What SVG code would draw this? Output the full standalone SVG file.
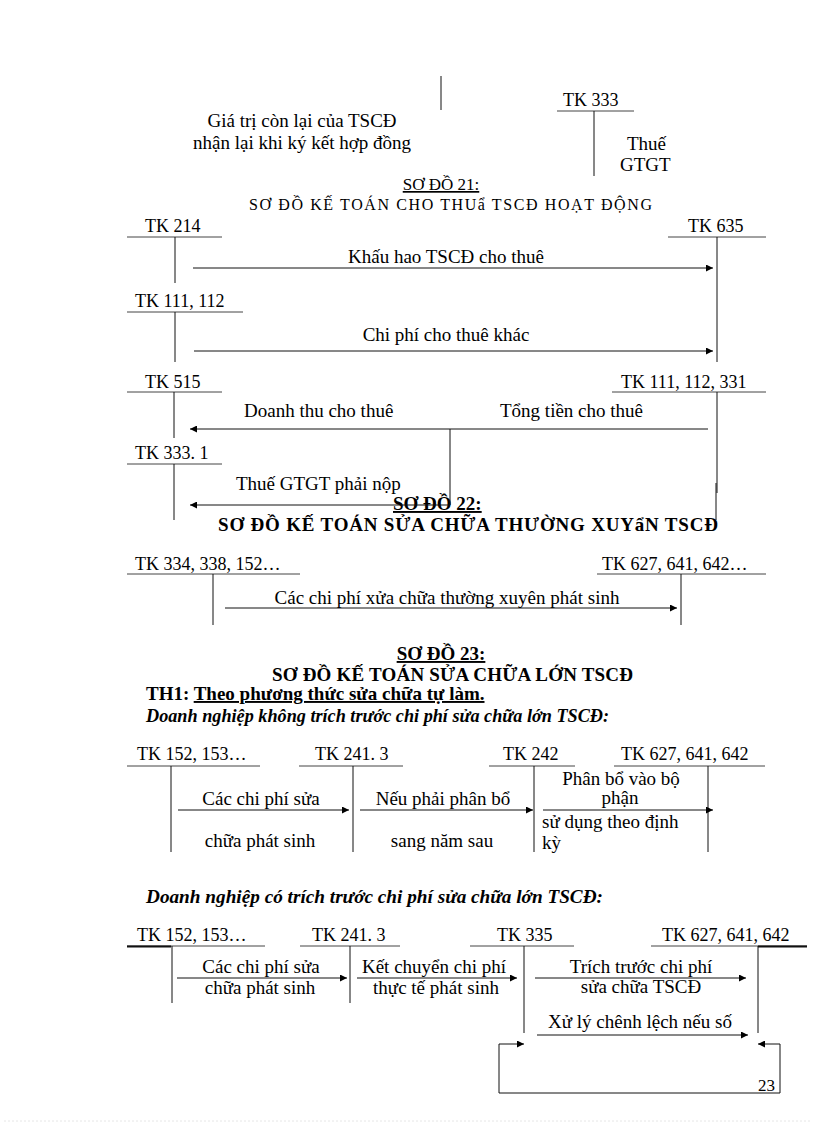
<svg xmlns="http://www.w3.org/2000/svg" width="816" height="1123" viewBox="0 0 816 1123" xml:space="preserve">
<defs>
<style>
text{font-family:"Liberation Serif","Times New Roman",serif;fill:#000;}
.t{font-size:18px;}
.l{font-size:19px;}
.c{text-anchor:middle;}
.ttl{font-size:16px;}
.b{font-weight:bold;font-size:19px;}
.bi{font-weight:bold;font-style:italic;font-size:19px;}
.u{text-decoration:underline;}
line,path,polyline{stroke:#111;stroke-width:1;fill:none;}
.ul{stroke:#444;}
.ar{marker-end:url(#ah);}
</style>
<marker id="ah" viewBox="0 0 10 10" refX="10" refY="5" markerWidth="9" markerHeight="7" orient="auto" markerUnits="userSpaceOnUse"><path d="M0,0 L10,5 L0,10 z" style="fill:#000;stroke:none"/></marker>
</defs>
<rect width="816" height="1123" fill="#fff"/>

<g id="top-fragment">
<line x1="441" y1="76" x2="441" y2="110"/>
<text class="l c" x="302" y="127">Giá trị còn lại của TSCĐ</text>
<text class="l c" x="302" y="149">nhận lại khi ký kết hợp đồng</text>
</g>
<g id="tk333-top">
<text class="t" x="563" y="106">TK 333</text>
<line class="ul" x1="557" y1="111" x2="634" y2="111"/>
<line x1="594" y1="111" x2="594" y2="176"/>
<text class="l" x="627" y="150">Thuế</text>
<text class="l" x="620" y="171">GTGT</text>
</g>

<g id="title21">
<text class="ttl c u" x="441" y="190" style="font-size:17px">SƠ ĐỒ 21:</text>
<text class="ttl" x="249" y="210" textLength="403" lengthAdjust="spacing">SƠ ĐỒ KẾ TOÁN  CHO THUẩ TSCĐ  HOẠT  ĐỘNG</text>
</g>

<g id="d21-tk214">
<text class="t" x="145" y="232">TK 214</text>
<line class="ul" x1="127" y1="237" x2="222" y2="237"/>
<line x1="175" y1="237" x2="175" y2="283"/>
</g>
<g id="d21-tk635">
<text class="t" x="688" y="232">TK 635</text>
<line class="ul" x1="668" y1="237" x2="766" y2="237"/>
<line x1="717" y1="237" x2="717" y2="362"/>
</g>
<g id="d21-tk111-112">
<text class="t" x="135" y="307">TK 111, 112</text>
<line class="ul" x1="127" y1="312" x2="243" y2="312"/>
<line x1="175" y1="312" x2="175" y2="362"/>
</g>
<g id="d21-tk515">
<text class="t" x="145" y="388">TK 515</text>
<line class="ul" x1="127" y1="392" x2="222" y2="392"/>
<line x1="174" y1="392" x2="174" y2="438"/>
</g>
<g id="d21-tk111-112-331">
<text class="t" x="621" y="388">TK 111, 112, 331</text>
<line class="ul" x1="612" y1="392" x2="766" y2="392"/>
<line x1="717" y1="392" x2="717" y2="493"/>
<line x1="716" y1="483" x2="716" y2="520"/>
</g>
<g id="d21-tk3331">
<text class="t" x="135" y="459">TK 333. 1</text>
<line class="ul" x1="127" y1="464" x2="222" y2="464"/>
<line x1="174" y1="464" x2="174" y2="520"/>
</g>

<g id="title22">
<text class="b u" x="393" y="510">SƠ ĐỒ 22:</text>
<text class="b" x="218" y="531" textLength="500" lengthAdjust="spacing">SƠ ĐỒ KẾ TOÁN SỬA CHỮA THƯỜNG XUYẩN TSCĐ</text>
</g>

<g id="d22-tk334">
<text class="t" x="135" y="570">TK 334, 338, 152…</text>
<line class="ul" x1="127" y1="574" x2="300" y2="574"/>
<line x1="213" y1="574" x2="213" y2="625"/>
</g>
<g id="d22-tk627">
<text class="t" x="602" y="570">TK 627, 641, 642…</text>
<line class="ul" x1="597" y1="574" x2="766" y2="574"/>
<line x1="681" y1="574" x2="681" y2="625"/>
</g>

<g id="title23">
<text class="b c u" x="441" y="660">SƠ ĐỒ 23:</text>
<text class="b" x="272" y="681" textLength="361" lengthAdjust="spacing">SƠ ĐỒ KẾ TOÁN SỬA CHỮA LỚN TSCĐ</text>
<text class="b" x="146" y="700">TH1: <tspan class="u">Theo phương thức sửa chữa tự làm.</tspan></text>
<text class="bi" x="146" y="722" textLength="463" lengthAdjust="spacingAndGlyphs">Doanh nghiệp không trích trước chi phí sửa chữa lớn TSCĐ:</text>
<text class="bi" x="146" y="903" textLength="457" lengthAdjust="spacingAndGlyphs">Doanh nghiệp có trích trước chi phí sửa chữa lớn TSCĐ:</text>
</g>

<g id="d23a-tk152">
<text class="t" x="137" y="760">TK 152, 153…</text>
<line class="ul" x1="127" y1="766" x2="260" y2="766"/>
<line x1="171" y1="766" x2="171" y2="852"/>
</g>
<g id="d23a-tk2413">
<text class="t" x="315" y="760">TK 241. 3</text>
<line class="ul" x1="299" y1="766" x2="403" y2="766"/>
<line x1="353" y1="766" x2="353" y2="852"/>
</g>
<g id="d23a-tk242">
<text class="t" x="503" y="760">TK 242</text>
<line class="ul" x1="489" y1="766" x2="575" y2="766"/>
<line x1="534" y1="766" x2="534" y2="852"/>
</g>
<g id="d23a-tk627">
<text class="t" x="621" y="760">TK 627, 641, 642</text>
<line class="ul" x1="614" y1="766" x2="765" y2="766"/>
<line x1="708" y1="766" x2="708" y2="852"/>
</g>

<g id="d23b-tk152">
<text class="t" x="137" y="941">TK 152, 153…</text>
<line class="ul" x1="127" y1="946" x2="265" y2="946"/>
<line x1="127" y1="946.5" x2="171" y2="946.5" style="stroke-width:2"/>
<line x1="172" y1="946" x2="172" y2="1003"/>
</g>
<g id="d23b-tk2413">
<text class="t" x="312" y="941">TK 241. 3</text>
<line class="ul" x1="300" y1="946" x2="400" y2="946"/>
<line x1="350" y1="946" x2="350" y2="1003"/>
</g>
<g id="d23b-tk335">
<text class="t" x="497" y="941">TK 335</text>
<line class="ul" x1="470" y1="946" x2="574" y2="946"/>
<line x1="524" y1="946" x2="524" y2="1033"/>
</g>
<g id="d23b-tk627">
<text class="t" x="662" y="941">TK 627, 641, 642</text>
<line class="ul" x1="651" y1="946" x2="807" y2="946"/>
<line x1="758" y1="946.5" x2="807" y2="946.5" style="stroke-width:2"/>
<line x1="758" y1="946" x2="758" y2="1033"/>
</g>

<g id="connectors">
<line class="ar" x1="193" y1="268" x2="713" y2="268"/>
<text class="l c" x="446" y="263">Khấu hao TSCĐ cho thuê</text>
<line class="ar" x1="194" y1="351" x2="713" y2="351"/>
<text class="l c" x="446" y="341">Chi phí cho thuê khác</text>
<line class="ar" x1="708" y1="429" x2="190" y2="429"/>
<text class="l" x="244" y="417">Doanh thu  cho thuê</text>
<text class="l" x="500" y="417">Tổng tiền  cho thuê</text>
<polyline class="ar" points="450,429 450,505 190,505"/>
<text class="l" x="236" y="490">Thuế GTGT phải nộp</text>

<line class="ar" x1="225" y1="608" x2="677" y2="608"/>
<text class="l c" x="447" y="604">Các chi phí xửa chữa thường xuyên phát sinh</text>

<line class="ar" x1="178" y1="810" x2="349" y2="810"/>
<text class="l c" x="261" y="805">Các chi phí sửa</text>
<text class="l c" x="260" y="847">chữa phát sinh</text>
<line class="ar" x1="360" y1="810" x2="533" y2="810"/>
<text class="l c" x="443" y="805">Nếu phải phân bổ</text>
<text class="l c" x="442" y="847">sang năm sau</text>
<line class="ar" x1="543" y1="810" x2="713" y2="810"/>
<text class="l c" x="621" y="785">Phân bổ vào bộ</text>
<text class="l c" x="620" y="804">phận</text>
<text class="l" x="542" y="828">sử dụng theo định</text>
<text class="l" x="542" y="849">kỳ</text>

<line class="ar" x1="177" y1="978" x2="347" y2="978"/>
<text class="l c" x="261" y="973">Các chi phí sửa</text>
<text class="l c" x="260" y="994">chữa phát sinh</text>
<line class="ar" x1="357" y1="978" x2="517" y2="978"/>
<text class="l c" x="434" y="973">Kết chuyển chi phí</text>
<text class="l c" x="436" y="994">thực tế phát sinh</text>
<line class="ar" x1="535" y1="978" x2="746" y2="978"/>
<text class="l c" x="641" y="973">Trích trước chi phí</text>
<text class="l c" x="641" y="993">sửa chữa TSCĐ</text>
<line class="ar" x1="537" y1="1035" x2="748" y2="1035"/>
<text class="l c" x="640" y="1028">Xử lý chênh lệch nếu số</text>
<line class="ar" x1="499" y1="1044" x2="524" y2="1044"/>
<polyline class="ar" points="499,1044 499,1093 780,1093 780,1044 758,1044"/>
</g>

<text style="font-size:17px" x="758" y="1091">23</text>
<line x1="4" y1="1121" x2="812" y2="1121" style="stroke:#e6e6e6;stroke-dasharray:2 2"/>
</svg>
